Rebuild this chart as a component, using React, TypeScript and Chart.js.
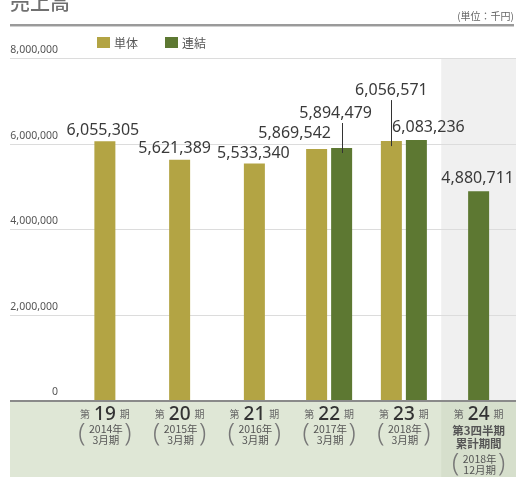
import React, { useEffect, useRef } from "react";
import { Chart, registerables } from "chart.js";

Chart.register(...registerables);

// ---- data ----
const periodNumbers = ["19", "20", "21", "22", "23", "24"];
const categories = ["第19期", "第20期", "第21期", "第22期", "第23期", "第24期"];
const periodSubLines: string[][] = [
  ["2014年", "3月期"],
  ["2015年", "3月期"],
  ["2016年", "3月期"],
  ["2017年", "3月期"],
  ["2018年", "3月期"],
  ["2018年", "12月期"],
];
const lastPeriodNote = ["第3四半期", "累計期間"];
const tantai: (number | null)[] = [6055305, 5621389, 5533340, 5869542, 6056571, null];
const renketsu: (number | null)[] = [null, null, null, 5894479, 6083236, 4880711];
const yTicks = [0, 2000000, 4000000, 6000000, 8000000];
const seriesNames = ["単体", "連結"];
const titleText = "売上高";
const unitText = "(単位：千円)";

// ---- styling / label placement (not data) ----
const YELLOW = "#b3a444";
const GREEN = "#5d7832";
// [dx, dy, leader] of value label centre relative to bar top centre
const labelPlacement: [number, number, boolean][][] = [
  [[-2, -11, false], [-5, -11, false], [-1, -10, false], [-22, -16, false], [0, -51, true], [0, 0, false]],
  [[0, 0, false], [0, 0, false], [0, 0, false], [-6, -35, true], [12, -13, false], [-1, -13, false]],
];

const fmt = (v: number) => v.toLocaleString("en-US");

const decor = {
  id: "decor",
  beforeDatasetsDraw(chart: any) {
    const { ctx, scales } = chart;
    const x = scales.x;
    const y = scales.y;
    const W = chart.width;
    const H = chart.height;
    const base = y.getPixelForValue(0);
    const top = y.getPixelForValue(8000000);
    const step = x.getPixelForValue(5) - x.getPixelForValue(4);
    const lastL = x.getPixelForValue(5) - step / 2;
    ctx.save();
    // backgrounds
    ctx.fillStyle = "#f0f0f0";
    ctx.fillRect(lastL, top, W - lastL, base - top);
    ctx.fillStyle = "#dfe7d6";
    ctx.fillRect(10, base, W - 10, H - base);
    ctx.fillStyle = "#d6dfcc";
    ctx.fillRect(lastL, base, W - lastL, H - base);

    // title
    ctx.fillStyle = "#707070";
    ctx.font = "500 20px 'Noto Sans CJK JP'";
    ctx.textAlign = "left";
    ctx.textBaseline = "alphabetic";
    ctx.fillText(titleText, 10, 10);
    // unit
    ctx.fillStyle = "#666";
    ctx.font = "10px 'Noto Sans CJK JP'";
    ctx.textAlign = "right";
    ctx.textBaseline = "middle";
    ctx.fillText(unitText, 514, 16);
    // double rule
    ctx.fillStyle = "#9a9a9a";
    ctx.fillRect(10, 24, W - 12, 2);
    ctx.fillStyle = "#d0d0d0";
    ctx.fillRect(10, 26, W - 12, 1);

    // legend
    const legendX = [97, 165];
    const colors = [YELLOW, GREEN];
    legendX.forEach((lx, i) => {
      ctx.fillStyle = colors[i];
      ctx.fillRect(lx, 37, 13, 11);
      ctx.fillStyle = "#555";
      ctx.font = "12px 'Noto Sans CJK JP'";
      ctx.textAlign = "left";
      ctx.textBaseline = "middle";
      ctx.fillText(seriesNames[i], lx + 17, 43);
    });

    // grid lines + tick labels
    yTicks.forEach((v) => {
      const py = Math.round(y.getPixelForValue(v));
      if (v !== 0) {
        ctx.fillStyle = "#dcdcdc";
        ctx.fillRect(10, py, W - 10, 1);
      }
      ctx.fillStyle = "#555";
      ctx.font = "10.5px 'Noto Sans'";
      ctx.textAlign = "right";
      ctx.textBaseline = "middle";
      ctx.fillText(fmt(v), 58, py - 8);
    });
    ctx.restore();
  },
  afterDatasetsDraw(chart: any) {
    const { ctx, scales } = chart;
    const x = scales.x;
    const y = scales.y;
    const W = chart.width;
    const base = Math.round(y.getPixelForValue(0));
    ctx.save();
    // axis line
    ctx.fillStyle = "#8a8a8a";
    ctx.fillRect(10, base, W - 10, 2);

    // value labels
    chart.data.datasets.forEach((ds: any, di: number) => {
      const meta = chart.getDatasetMeta(di);
      ds.data.forEach((v: number | null, i: number) => {
        if (v == null) return;
        const bar = meta.data[i];
        const [dx, dy, leader] = labelPlacement[di][i];
        const lx = bar.x + dx;
        const ly = bar.y + dy;
        ctx.fillStyle = "#3a3a3a";
        ctx.font = "16px 'Noto Sans'";
        ctx.textAlign = "center";
        ctx.textBaseline = "middle";
        ctx.fillText(fmt(v), lx, ly);
        if (leader) {
          ctx.strokeStyle = "#333";
          ctx.lineWidth = 1;
          ctx.beginPath();
          const px = Math.round(bar.x) + 0.5;
          ctx.moveTo(px, ly + 10);
          ctx.lineTo(px, bar.y + 5);
          ctx.stroke();
        }
      });
    });

    // category labels
    periodNumbers.forEach((num, i) => {
      const cx = x.getPixelForValue(i);
      const smallFont = "10px 'Noto Sans CJK JP'";
      const bigFont = "500 19px 'Noto Sans'";
      ctx.textBaseline = "alphabetic";
      ctx.textAlign = "left";
      ctx.font = smallFont;
      const wDai = ctx.measureText("第").width;
      const wKi = ctx.measureText("期").width;
      ctx.font = bigFont;
      const wNum = ctx.measureText(num).width;
      const gap = 4;
      const total = wDai + gap + wNum + gap + wKi;
      let sx = cx - total / 2;
      ctx.fillStyle = "#666";
      ctx.font = smallFont;
      ctx.fillText("第", sx, 418);
      sx += wDai + gap;
      ctx.fillStyle = "#333";
      ctx.font = bigFont;
      ctx.fillText(num, sx, 420);
      sx += wNum + gap;
      ctx.fillStyle = "#666";
      ctx.font = smallFont;
      ctx.fillText("期", sx, 418);

      ctx.textAlign = "center";
      ctx.textBaseline = "middle";
      let subTop = 429;
      if (i === 5) {
        ctx.fillStyle = "#555";
        ctx.font = "bold 11.5px 'Noto Sans CJK JP'";
        ctx.fillText(lastPeriodNote[0], cx, 431);
        ctx.fillText(lastPeriodNote[1], cx, 444);
        subTop = 459;
      }
      const lines = periodSubLines[i];
      ctx.fillStyle = "#555";
      ctx.font = "10.5px 'Noto Sans CJK JP'";
      ctx.fillText(lines[0], cx + 1, subTop);
      ctx.fillText(lines[1], cx + 1, subTop + 11);
      ctx.fillStyle = "#777";
      ctx.font = "300 26px 'Noto Sans'";
      ctx.fillText("(", cx - 23, subTop + 5);
      ctx.fillText(")", cx + 23, subTop + 5);
    });
    ctx.restore();
  },
};

export default function App() {
  const ref = useRef<HTMLCanvasElement>(null);
  useEffect(() => {
    const chart = new Chart(ref.current as HTMLCanvasElement, {
      type: "bar",
      data: {
        labels: categories,
        datasets: [
          {
            label: seriesNames[0],
            data: tantai,
            backgroundColor: YELLOW,
            categoryPercentage: 0.669,
            barPercentage: 0.84,
            maxBarThickness: 21,
            skipNull: true,
          } as any,
          {
            label: seriesNames[1],
            data: renketsu,
            backgroundColor: GREEN,
            categoryPercentage: 0.669,
            barPercentage: 0.84,
            maxBarThickness: 21,
            skipNull: true,
          } as any,
        ],
      },
      options: {
        responsive: false,
        animation: false,
        layout: { padding: { left: 67.5, right: 0, top: 58, bottom: 77 } },
        plugins: {
          legend: { display: false },
          tooltip: { enabled: false },
          title: { display: false },
        },
        scales: {
          x: { display: false },
          y: { display: false, min: 0, max: 8000000 },
        },
      },
      plugins: [decor],
    });
    return () => chart.destroy();
  }, []);
  return (
    <div style={{ position: "absolute", left: 0, top: 0, width: 516, height: 477, background: "#fff" }}>
      <canvas ref={ref} width={516} height={477} style={{ display: "block" }} />
    </div>
  );
}
